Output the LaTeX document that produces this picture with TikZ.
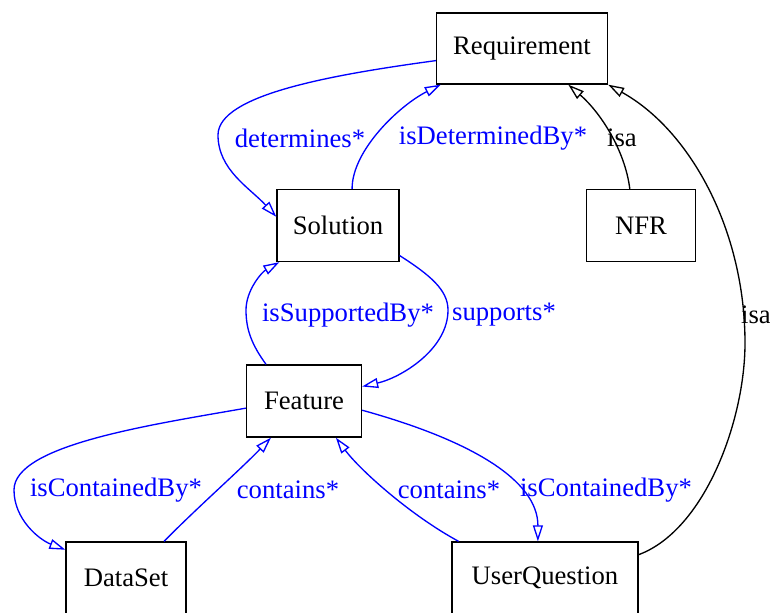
\documentclass[tikz,border=0pt]{standalone}
\usepackage{fontspec}
\setmainfont{Liberation Serif}
\usepackage{tikz}
\usetikzlibrary{arrows.meta}

\tikzset{
  class/.style={draw, line width=1pt, minimum height=54pt, inner sep=0pt,
    font=\rmfamily\fontsize{20}{24}\selectfont},
  rel/.style={draw=blue, line width=1pt, -{Triangle[open,length=12pt,width=7.5pt]}},
  isarel/.style={draw=black, line width=1pt, -{Triangle[open,length=12pt,width=7.5pt]}},
  lbl/.style={text=blue, inner sep=0pt, font=\rmfamily\fontsize{20}{24}\selectfont},
  isalbl/.style={text=black, inner sep=0pt, font=\rmfamily\fontsize{20}{24}\selectfont}
}

\begin{document}
\begin{tikzpicture}[x=0.75pt, y=-0.75pt]
          \useasboundingbox (0,0) rectangle (770,612);
          % classes
          \node[class, minimum width=128.25pt, minimum height=53.25pt] (req) at (522,48.5) {Requirement};
          \node[class, minimum width=91.5pt] (sol) at (338,225.5) {Solution};
          \node[class, minimum width=81.75pt] (nfr) at (641,225.5) {NFR};
          \node[class, minimum width=86.25pt] (feat) at (304,401) {Feature};
          \node[class, minimum width=90pt] (ds) at (126,578) {DataSet};
          \node[class, minimum width=139.5pt] (uq) at (545,578) {UserQuestion};
          % requirement <-> solution
          \draw[rel] (req.188) .. controls (330,75) and (218,95) .. (218,135)
                     .. controls (218,170) and (250,188) .. (sol.172);
          \draw[rel] (sol.69) .. controls (352,150) and (400,105) .. (req.204);
          % isa
          \draw[isarel] (nfr.107) .. controls (625,150) and (600,112) .. (req.322);
          \draw[isarel] (uq.14) .. controls (705,530) and (745,420) .. (745,343)
                        .. controls (745,230) and (690,130) .. (req.south east);
          % solution <-> feature
          \draw[rel] (feat.136) .. controls (252,345) and (246,330) .. (246,310)
                     .. controls (246,290) and (262,272) .. (sol.212);
          \draw[rel] (sol.334) .. controls (430,275) and (448,290) .. (448,310)
                     .. controls (448,350) and (400,378) .. (feat.14);
          % feature <-> dataset
          \draw[rel] (feat.187) .. controls (150,425) and (14,445) .. (14,490)
                     .. controls (14,520) and (40,540) .. (ds.155);
          \draw[rel] (ds.44) .. controls (200,505) and (240,470) .. (feat.228);
          % feature <-> userquestion
          \draw[rel] (uq.157) .. controls (410,515) and (360,470) .. (feat.311);
          \draw[rel] (feat.351) .. controls (470,440) and (538,480) .. (uq.101);
          % labels
          \node[lbl] (lDetermines) at (300,138) {determines*};
          \node[lbl] (lDeterminedBy) at (493,138) {isDeterminedBy*};
          \node[isalbl] (lIsaNfr) at (622,138) {isa};
          \node[isalbl] (lIsaUq) at (756,315) {isa};
          \node[lbl] (lSupportedBy) at (348,315) {isSupportedBy*};
          \node[lbl] (lSupports) at (504,315) {supports*};
          \node[lbl] (lContainedByDs) at (116,490) {isContainedBy*};
          \node[lbl] (lContainsDs) at (288,490) {contains*};
          \node[lbl] (lContainsUq) at (449,490) {contains*};
          \node[lbl] (lContainedByUq) at (606,490) {isContainedBy*};
\end{tikzpicture}
\end{document}
